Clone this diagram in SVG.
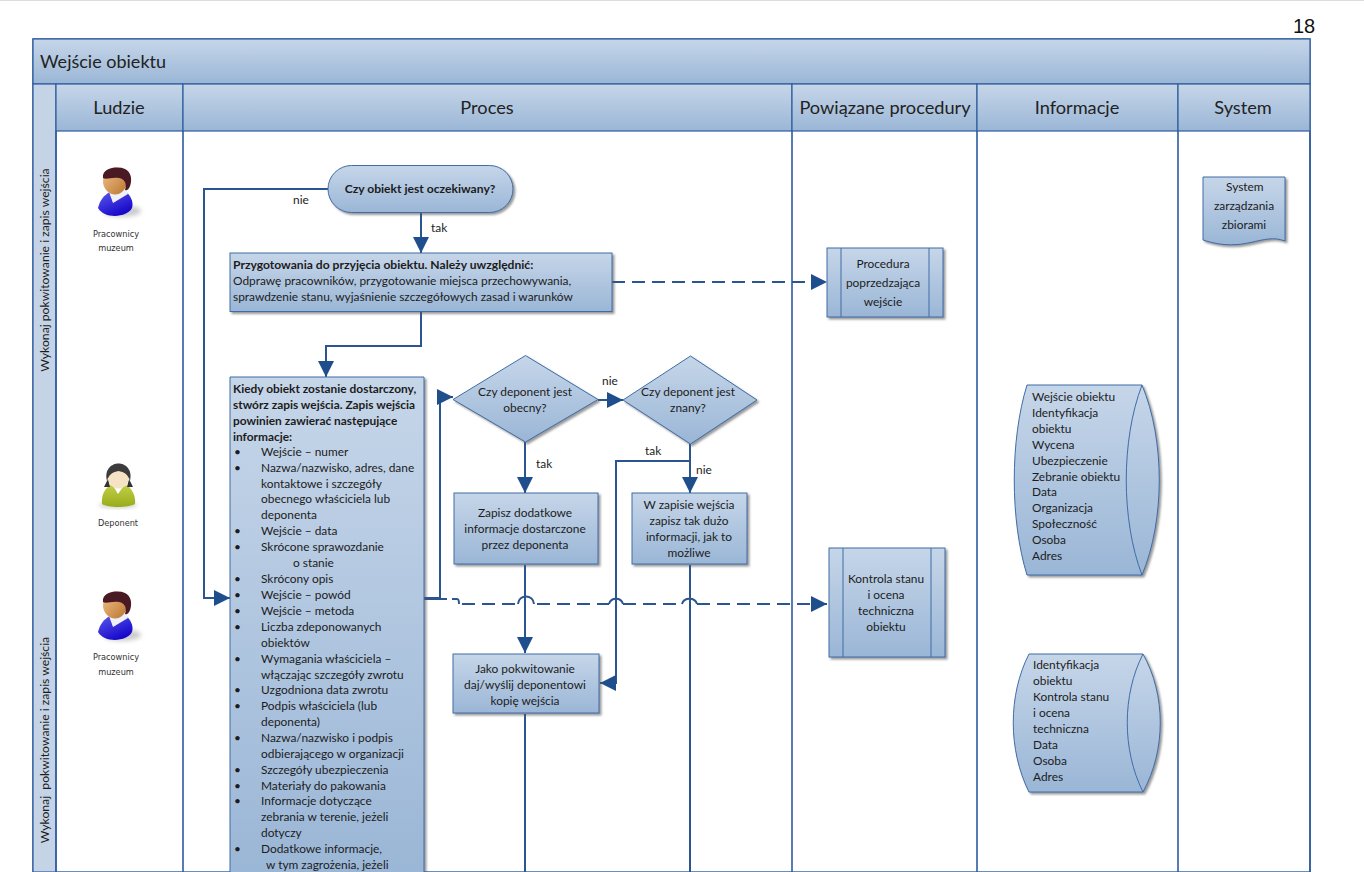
<svg xmlns="http://www.w3.org/2000/svg" width="1364" height="872" viewBox="0 0 1364 872">
<style>
text{font-family:Lato,"Noto Sans",sans-serif;font-size:11.9px;fill:#1c1c1c}
.m{text-anchor:middle}
.h{font-size:18.2px;text-anchor:middle;fill:#222}
.b{font-weight:700;font-size:12.1px}
.s{fill:url(#g);stroke:#3f6ca6;stroke-width:1;filter:url(#sh)}
.band{fill:url(#g);stroke:#2e5c9e;stroke-width:1.2}
.ln{fill:none;stroke:#2e5c9e;stroke-width:1.6}
.c{fill:none;stroke:#2a5590;stroke-width:2}
.d{stroke-dasharray:13 7}
.p{font-family:"DejaVu Sans",sans-serif;font-size:8.2px;text-anchor:middle;fill:#333}
.i{fill:none;stroke:#3f6ca6}
</style>
<defs>
<linearGradient id="g" x1="0" y1="0" x2="0" y2="1"><stop offset="0" stop-color="#c6d6e9"/><stop offset="1" stop-color="#9ab6d6"/></linearGradient>
<linearGradient id="face" x1="0" y1="0" x2="1" y2="1"><stop offset="0" stop-color="#f4c48c"/><stop offset="1" stop-color="#b8742f"/></linearGradient>
<linearGradient id="blue" x1="0" y1="0" x2="0.6" y2="1"><stop offset="0" stop-color="#5c5cf0"/><stop offset="1" stop-color="#1606c8"/></linearGradient>
<linearGradient id="olive" x1="0" y1="0" x2="0" y2="1"><stop offset="0" stop-color="#c4d04c"/><stop offset="1" stop-color="#98ac18"/></linearGradient>
<filter id="sh" x="-10%" y="-10%" width="125%" height="125%"><feDropShadow dx="2" dy="2" stdDeviation="1" flood-color="#555" flood-opacity=".6"/></filter>
<filter id="bl" x="-30%" y="-30%" width="160%" height="160%"><feGaussianBlur stdDeviation="2"/></filter>
<marker id="a" markerUnits="userSpaceOnUse" markerWidth="17" markerHeight="18" refX="16" refY="9" orient="auto"><path d="M0 1 L16 9 L0 17 Z" fill="#1f4e8c"/></marker>
<g id="man">
<ellipse cx="122" cy="211" rx="19" ry="6" fill="#aaa" opacity=".6" filter="url(#bl)"/>
<path d="M98 208 C100 200 104 195 110 192 L125 191 C130 195 134 201 132 208 C128 217 105 220 98 208 Z" fill="url(#blue)"/>
<path d="M109 192 L113 203 L128 194 L124 186 L111 186 Z" fill="#f0f0f4"/>
<ellipse cx="115" cy="181" rx="12" ry="13.500" fill="url(#face)"/>
<path d="M103 178 C102 170 110 167.500 118 167.500 C128 167.500 132 174 131 182 C130 189 127 191 125 190 C127 184 125 179 119 178 C112 177 106 180 103 178 Z" fill="#4a1a24"/>
</g>
</defs>
<rect width="1364" height="872" fill="#fff"/>
<path d="M0 0.500H1364" stroke="#ddd"/>
<text x="1304" y="33" style="font-family:'Liberation Sans',sans-serif;font-size:20px;fill:#111" text-anchor="middle">18</text>

<g id="frame">
<rect x="33" y="39" width="1277" height="833" fill="#fff" stroke="#2e5c9e" stroke-width="1.4"/>
<rect class="band" x="33" y="39" width="1277" height="45"/>
<text x="40" y="68" style="font-size:18px;fill:#222">Wejście obiektu</text>
<rect x="33" y="84" width="23" height="788" fill="#c5d3e6" stroke="#2e5c9e" stroke-width="1.2"/>
<text class="m" transform="translate(49 270) rotate(-90)" style="font-size:12.2px">Wykonaj pokwitowanie i zapis wejścia</text>
<text class="m" transform="translate(49 740) rotate(-90)" style="font-size:12.2px" xml:space="preserve">Wykonaj  pokwitowanie i zapis wejścia</text>
<rect class="band" x="56" y="84" width="127" height="47"/>
<rect class="band" x="183" y="84" width="609" height="47"/>
<rect class="band" x="792" y="84" width="185" height="47"/>
<rect class="band" x="977" y="84" width="201" height="47"/>
<rect class="band" x="1178" y="84" width="132" height="47"/>
<text class="h" x="119" y="114">Ludzie</text>
<text class="h" x="487" y="114">Proces</text>
<text class="h" x="885" y="114">Powiązane procedury</text>
<text class="h" x="1077" y="114">Informacje</text>
<text class="h" x="1243" y="114">System</text>
<path class="ln" d="M56 131V872M183 131V872M792 131V872M977 131V872M1178 131V872M1310 131V872"/>
</g>

<g id="person-1"><use href="#man"/><text class="p" x="116" y="237">Pracownicy</text><text class="p" x="116" y="251">muzeum</text></g>
<g id="person-2">
<ellipse cx="118" cy="505" rx="19" ry="3" fill="#aaa" opacity=".6" filter="url(#bl)"/>
<path d="M102 504 C101 495 105 487 113 484 L124 484 C132 487 136 496 135 504 C128 508 108 508 102 504 Z" fill="url(#olive)"/>
<path d="M112 484 L118 494 L125 484 Z" fill="#fff"/>
<path d="M108 479 L104 487 L110 487 Z M129 479 L133 487 L127 487 Z" fill="#333"/>
<ellipse cx="118.500" cy="477" rx="10.500" ry="11.500" fill="#f5e3c4"/>
<path d="M107 481 C104 469 112 463.500 118.500 463.500 C125 463.500 133 469 130 481 C128 474 124 472 118.500 471 C113 472 109 474 107 481 Z" fill="#3c3c3c"/>
<text class="p" x="118" y="526">Deponent</text>
</g>
<g id="person-3"><use href="#man" y="424"/><text class="p" x="116" y="660">Pracownicy</text><text class="p" x="116" y="675">muzeum</text></g>

<g id="connectors">
<path class="c" d="M328 189H204V598H230" marker-end="url(#a)"/>
<path class="c" d="M421 213V253" marker-end="url(#a)"/>
<path class="c d" d="M612 282H827" marker-end="url(#a)"/>
<path class="c" d="M421 312V346H326V377" marker-end="url(#a)"/>
<path class="c" d="M424 598H440V397H453" marker-end="url(#a)"/>
<path class="c" d="M424 599H447M452 599H457Q459 599 459 604"/>
<path class="c d" d="M462 604H518M537 604H609M623 604H682M697 604H827" marker-end="url(#a)"/>
<path class="c" d="M518 604C519 594 533 594 534 604M609 604C611 597 621 597 623 604M682 604C684 597 695 597 697 604"/>
<path class="c" d="M598 400H623" marker-end="url(#a)"/>
<path class="c" d="M525 442V493" marker-end="url(#a)"/>
<path class="c" d="M690 444V493" marker-end="url(#a)"/>
<path class="c" d="M690 461H616V683H600" marker-end="url(#a)"/>
<path class="c" d="M525 565V653" marker-end="url(#a)"/>
<path class="c" d="M525 714V872M690 565V872"/>
</g>
<text x="293" y="204">nie</text>
<text x="431" y="232">tak</text>
<text x="602" y="385">nie</text>
<text x="536" y="468">tak</text>
<text x="645" y="455">tak</text>
<text x="696" y="474">nie</text>

<g id="start"><rect class="s" x="328" y="165.500" width="185" height="47" rx="23.500"/><text class="m b" x="420" y="193">Czy obiekt jest oczekiwany?</text></g>

<g id="prep"><rect class="s" x="230" y="253" width="382" height="58.500"/>
<text x="233" y="269" class="b">Przygotowania do przyjęcia obiektu. Należy uwzględnić:</text>
<text x="233" y="285">Odprawę pracowników, przygotowanie miejsca przechowywania,</text>
<text x="233" y="301">sprawdzenie stanu, wyjaśnienie szczegółowych zasad i warunków</text></g>

<g id="record"><path class="s" d="M230 377H424V880H230Z"/>
<text class="b" style="font-size:11.9px"><tspan x="233" y="393">Kiedy obiekt zostanie dostarczony,</tspan><tspan x="233" y="409">stwórz zapis wejścia. Zapis wejścia</tspan><tspan x="233" y="425">powinien zawierać następujące</tspan><tspan x="233" y="441">informacje:</tspan></text>
<text><tspan x="261" y="456">Wejście – numer</tspan><tspan x="261" y="472">Nazwa/nazwisko, adres, dane</tspan><tspan x="261" y="488">kontaktowe i szczegóły</tspan><tspan x="261" y="503">obecnego właściciela lub</tspan><tspan x="261" y="519">deponenta</tspan><tspan x="261" y="535">Wejście – data</tspan><tspan x="261" y="551">Skrócone sprawozdanie</tspan><tspan x="293" y="567">o stanie</tspan><tspan x="261" y="583">Skrócony opis</tspan><tspan x="261" y="599">Wejście – powód</tspan><tspan x="261" y="615">Wejście – metoda</tspan><tspan x="261" y="631">Liczba zdeponowanych</tspan><tspan x="261" y="647">obiektów</tspan><tspan x="261" y="663">Wymagania właściciela –</tspan><tspan x="261" y="679">włączając szczegóły zwrotu</tspan><tspan x="261" y="694">Uzgodniona data zwrotu</tspan><tspan x="261" y="710">Podpis właściciela (lub</tspan><tspan x="261" y="726">deponenta)</tspan><tspan x="261" y="742">Nazwa/nazwisko i podpis</tspan><tspan x="261" y="758">odbierającego w organizacji</tspan><tspan x="261" y="774">Szczegóły ubezpieczenia</tspan><tspan x="261" y="790">Materiały do pakowania</tspan><tspan x="261" y="805">Informacje dotyczące</tspan><tspan x="261" y="821">zebrania w terenie, jeżeli</tspan><tspan x="261" y="837">dotyczy</tspan><tspan x="261" y="853">Dodatkowe informacje,</tspan><tspan x="266" y="869">w tym zagrożenia, jeżeli</tspan></text>
<text><tspan x="234" y="456">•</tspan><tspan x="234" y="472">•</tspan><tspan x="234" y="535">•</tspan><tspan x="234" y="551">•</tspan><tspan x="234" y="583">•</tspan><tspan x="234" y="599">•</tspan><tspan x="234" y="615">•</tspan><tspan x="234" y="631">•</tspan><tspan x="234" y="663">•</tspan><tspan x="234" y="694">•</tspan><tspan x="234" y="710">•</tspan><tspan x="234" y="742">•</tspan><tspan x="234" y="774">•</tspan><tspan x="234" y="790">•</tspan><tspan x="234" y="805">•</tspan><tspan x="234" y="853">•</tspan></text></g>

<g id="dec-1"><path class="s" d="M525.500 355.500L598 399.500L525.500 442L453 399.500Z"/><text class="m" x="525" y="396">Czy deponent jest</text><text class="m" x="525" y="412">obecny?</text></g>
<g id="dec-2"><path class="s" d="M690.500 356L757 400L690.500 444L623 400Z"/><text class="m" x="688" y="396">Czy deponent jest</text><text class="m" x="688" y="412">znany?</text></g>

<g id="note-1"><rect class="s" x="454" y="493" width="144" height="71"/><text class="m"><tspan x="525" y="517">Zapisz dodatkowe</tspan><tspan x="525" y="533">informacje dostarczone</tspan><tspan x="525" y="549">przez deponenta</tspan></text></g>
<g id="note-2"><rect class="s" x="632" y="493" width="115" height="71"/><text class="m"><tspan x="689" y="509">W zapisie wejścia</tspan><tspan x="689" y="525">zapisz tak dużo</tspan><tspan x="689" y="541">informacji, jak to</tspan><tspan x="689" y="557">możliwe</tspan></text></g>
<g id="receipt"><rect class="s" x="453" y="654" width="146" height="59"/><text class="m"><tspan x="525" y="673">Jako pokwitowanie</tspan><tspan x="525" y="689">daj/wyślij deponentowi</tspan><tspan x="525" y="705">kopię wejścia</tspan></text></g>

<g id="proc-1"><rect class="s" x="827" y="248" width="116" height="69"/><path class="i" d="M841 248V317M929 248V317"/><text class="m"><tspan x="883" y="268">Procedura</tspan><tspan x="883" y="287">poprzedzająca</tspan><tspan x="883" y="306">wejście</tspan></text></g>
<g id="proc-2"><rect class="s" x="829" y="548" width="116" height="109"/><path class="i" d="M843 548V657M931 548V657"/><text class="m"><tspan x="886" y="583">Kontrola stanu</tspan><tspan x="886" y="599">i ocena</tspan><tspan x="886" y="615">techniczna</tspan><tspan x="886" y="631">obiektu</tspan></text></g>

<g id="store-1"><path class="s" d="M1027 385H1142C1165 440 1165 520 1142 575H1027C1010 520 1010 440 1027 385Z"/><path class="i" d="M1142 385C1121 440 1121 520 1142 575"/>
<text><tspan x="1032" y="401">Wejście obiektu</tspan><tspan x="1032" y="417">Identyfikacja</tspan><tspan x="1032" y="433">obiektu</tspan><tspan x="1032" y="449">Wycena</tspan><tspan x="1032" y="465">Ubezpieczenie</tspan><tspan x="1032" y="481">Zebranie obiektu</tspan><tspan x="1032" y="496">Data</tspan><tspan x="1032" y="512">Organizacja</tspan><tspan x="1032" y="528">Społeczność</tspan><tspan x="1032" y="544">Osoba</tspan><tspan x="1032" y="560">Adres</tspan></text></g>
<g id="store-2"><path class="s" d="M1029 654H1143C1166 695 1166 750 1143 792H1029C1008 750 1008 695 1029 654Z"/><path class="i" d="M1143 654C1122 695 1122 750 1143 792"/>
<text><tspan x="1033" y="669">Identyfikacja</tspan><tspan x="1033" y="685">obiektu</tspan><tspan x="1033" y="701">Kontrola stanu</tspan><tspan x="1033" y="717">i ocena</tspan><tspan x="1033" y="733">techniczna</tspan><tspan x="1033" y="749">Data</tspan><tspan x="1033" y="765">Osoba</tspan><tspan x="1033" y="781">Adres</tspan></text></g>

<g id="system"><path class="s" d="M1203 177H1285V241C1262 232 1245 254 1203 240Z"/><text class="m"><tspan x="1226" y="191" text-anchor="start">System</tspan><tspan x="1244" y="210">zarządzania</tspan><tspan x="1244" y="229">zbiorami</tspan></text></g>
</svg>
